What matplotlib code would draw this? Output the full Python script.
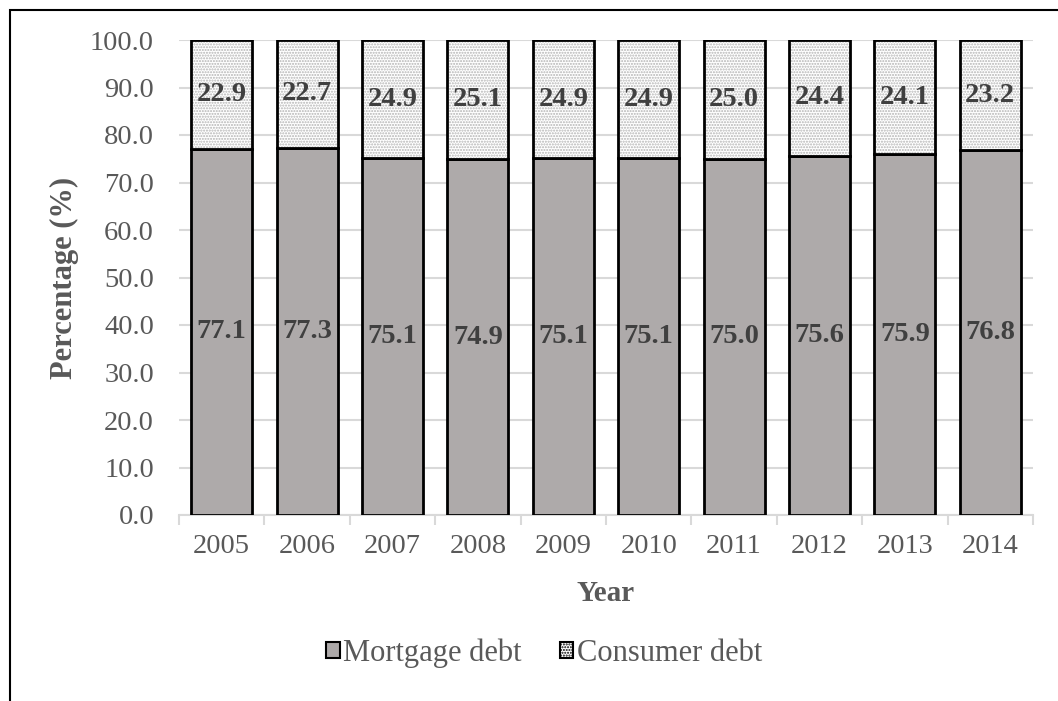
import numpy as np
import matplotlib

matplotlib.use("Agg")
import matplotlib.pyplot as plt
from matplotlib.patches import Patch, Rectangle

years = ["2005", "2006", "2007", "2008", "2009", "2010", "2011", "2012", "2013", "2014"]
mortgage = [77.1, 77.3, 75.1, 74.9, 75.1, 75.1, 75.0, 75.6, 75.9, 76.8]
consumer = [22.9, 22.7, 24.9, 25.1, 24.9, 24.9, 25.0, 24.4, 24.1, 23.2]
yticks = [0, 10, 20, 30, 40, 50, 60, 70, 80, 90, 100]

plt.rcParams.update({
    "font.family": ["Liberation Serif", "DejaVu Serif"],
    "font.size": 20,
    "hatch.linewidth": 1.0,
})

GREY_TXT = "#595959"
LABEL_TXT = "#404040"
MORT = "#AEAAAA"

fig = plt.figure(figsize=(10.58, 7.01), dpi=100)
ax = fig.add_axes([179 / 1058, 1 - 515 / 701, (1033 - 179) / 1058, (515 - 40) / 701])

x = np.arange(len(years))
w = 0.715

ax.bar(x, mortgage, w, color=MORT, edgecolor="black", linewidth=2, zorder=3)
# dotted fill first, then a separate black outline on top
ax.bar(x, consumer, w, bottom=mortgage, color="white", edgecolor="#b4b4b4",
       hatch="......", linewidth=0, zorder=3)
ax.bar(x, consumer, w, bottom=mortgage, fill=False, edgecolor="black",
       linewidth=2, zorder=4)

for i in range(len(years)):
    ax.text(x[i], mortgage[i] / 2, f"{mortgage[i]:.1f}", ha="center", va="center",
            fontsize=20.5, fontweight="bold", color=LABEL_TXT, zorder=5)
    ax.text(x[i], mortgage[i] + consumer[i] / 2, f"{consumer[i]:.1f}", ha="center",
            va="center", fontsize=20.5, fontweight="bold", color=LABEL_TXT, zorder=5)

ax.set_xlim(-0.5, len(years) - 0.5)
ax.set_ylim(0, 100)
ax.set_yticks(yticks)
ax.set_yticklabels([f"{v:.1f}" for v in yticks])
ax.set_xticks(x)
ax.set_xticklabels(years)
ax.set_xticks(np.arange(-0.5, len(years)), minor=True)
ax.tick_params(axis="y", length=0, pad=18, colors=GREY_TXT, labelsize=20.5)
ax.tick_params(axis="x", which="major", length=0, pad=14, colors=GREY_TXT, labelsize=20.5)
ax.tick_params(axis="x", which="minor", length=7, width=1.5, color="#d9d9d9")
ax.grid(axis="y", color="#d9d9d9", linewidth=1.5, zorder=0)
ax.set_axisbelow(True)
for s in ["left", "right", "top"]:
    ax.spines[s].set_visible(False)
ax.spines["bottom"].set_color("#d9d9d9")
ax.spines["bottom"].set_linewidth(1.5)

ax.set_ylabel("Percentage (%)", fontweight="bold", color=GREY_TXT, fontsize=22, labelpad=8)
ax.set_xlabel("Year", fontweight="bold", color=GREY_TXT, fontsize=21, labelpad=15)

handles = [
    Patch(facecolor=MORT, edgecolor="black", linewidth=1.5, label="Mortgage debt"),
    Patch(facecolor="white", edgecolor="black", linewidth=1.5, hatch="......",
          label="Consumer debt"),
]
leg = fig.legend(handles=handles, loc="center", bbox_to_anchor=(544 / 1058, 1 - 653 / 701),
                 ncol=2, frameon=False, handlelength=0.45, handleheight=0.45,
                 handletextpad=0.1, columnspacing=1.25, fontsize=22)
for t in leg.get_texts():
    t.set_color(GREY_TXT)

# outer chart border
fig.patches.append(Rectangle((10 / 1058, -0.05), 1.2, 1 - 10 / 701 + 0.05,
                             transform=fig.transFigure, fill=False,
                             edgecolor="black", linewidth=1.5))

fig.savefig("out.png", dpi=100)
